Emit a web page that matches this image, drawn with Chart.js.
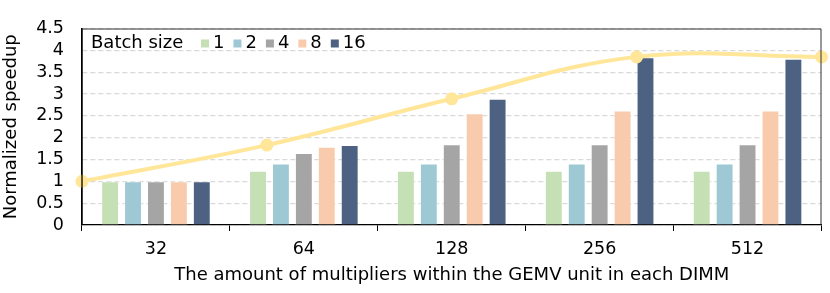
<!DOCTYPE html>
<html>
<head>
<meta charset="utf-8">
<script src="https://cdn.jsdelivr.net/npm/chart.js@4"></script>
<style>
  html, body { margin: 0; padding: 0; background: #fff; }
  #wrap { width: 830px; height: 293px; }
</style>
</head>
<body>
<div id="wrap"><canvas id="c" width="830" height="293"></canvas></div>
<script>
const categories = ['32', '64', '128', '256', '512'];
const batchSizes = ['1', '2', '4', '8', '16'];
const batch1 = [1.00, 1.24, 1.24, 1.24, 1.24];
const batch2 = [1.00, 1.41, 1.41, 1.41, 1.41];
const batch4 = [1.00, 1.65, 1.85, 1.85, 1.85];
const batch8 = [1.00, 1.79, 2.56, 2.62, 2.62];
const batch16 = [1.00, 1.83, 2.89, 3.84, 3.81];
const trendLine = [1.00, 1.83, 2.89, 3.85, 3.85];
const yTicks = [0, 0.5, 1, 1.5, 2, 2.5, 3, 3.5, 4, 4.5];
const legendTitle = 'Batch size';
const xTitle = 'The amount of multipliers within the GEMV unit in each DIMM';
const yTitle = 'Normalized speedup';

const barColors = ['#c5e0b4', '#9fc8d5', '#a5a5a5', '#f8cbad', '#4d6282'];
const lineColor = '#ffe699';
const FONT = 'DejaVu Sans';

const barSeries = [batch1, batch2, batch4, batch8, batch16];
const xMin = -0.5, xMax = categories.length - 0.5;

const datasets = barSeries.map((vals, i) => ({
  type: 'bar',
  label: batchSizes[i],
  data: vals.map((v, j) => ({ x: j, y: v })),
  backgroundColor: barColors[i],
  borderColor: 'rgba(255,255,255,0.45)',
  borderWidth: 1,
  categoryPercentage: 0.775,
  barPercentage: 0.78,
  order: 2,
  xAxisID: 'x',
  yAxisID: 'y'
}));

// the trend line spans the whole axis: its points are spread evenly from the left edge to the right edge
datasets.push({
  type: 'line',
  label: 'trend',
  data: trendLine.map((v, j) => ({ x: xMin + j * (xMax - xMin) / (trendLine.length - 1), y: v })),
  borderColor: lineColor,
  backgroundColor: lineColor,
  pointBackgroundColor: lineColor,
  pointBorderColor: lineColor,
  borderWidth: 4,
  pointRadius: 4.5,
  tension: 0.4,
  clip: false,
  order: 0,
  xAxisID: 'x',
  yAxisID: 'y'
});

const framePlugin = {
  id: 'frame',
  afterDatasetsDraw(chart) {
    const { ctx, chartArea: a } = chart;
    ctx.save();
    ctx.setLineDash([]);
    ctx.strokeStyle = '#333';
    ctx.lineWidth = 1;
    ctx.beginPath();
    ctx.moveTo(a.left, a.top + 0.5);
    ctx.lineTo(a.right - 0.5, a.top + 0.5);
    ctx.lineTo(a.right - 0.5, a.bottom);
    ctx.stroke();
    // solid left axis line (the grid dash must not apply to it)
    ctx.strokeStyle = '#000';
    ctx.lineWidth = 1.3;
    ctx.beginPath();
    ctx.moveTo(a.left, a.top);
    ctx.lineTo(a.left, a.bottom);
    ctx.stroke();
    ctx.restore();
  },
  afterDraw(chart) {
    const { ctx, chartArea: a } = chart;
    ctx.save();
    ctx.font = '18px "' + FONT + '"';
    ctx.textBaseline = 'middle';
    ctx.fillStyle = '#000';
    const cy = a.top + 15;
    let x = a.left + 9;
    ctx.fillText(legendTitle, x, cy);
    x = 201;
    batchSizes.forEach((lab, i) => {
      ctx.fillStyle = barColors[i];
      ctx.fillRect(x, cy - 4, 8, 8);
      ctx.fillStyle = '#000';
      ctx.fillText(lab, x + 12, cy);
      x += 8 + 12 + ctx.measureText(lab).width + 1;
    });
    ctx.restore();
  }
};

new Chart(document.getElementById('c'), {
  type: 'bar',
  data: { labels: categories, datasets },
  plugins: [framePlugin],
  options: {
    responsive: false,
    maintainAspectRatio: false,
    devicePixelRatio: 1,
    animation: false,
    layout: { padding: { top: 11, right: 6, left: 0, bottom: 0 } },
    plugins: { legend: { display: false }, tooltip: { enabled: false } },
    scales: {
      x: {
        type: 'linear',
        min: xMin,
        max: xMax,
        display: false,
        offset: false,
        afterBuildTicks(s) { s.ticks = categories.map((c, i) => ({ value: i })); }
      },
      xc: {
        type: 'category',
        axis: 'x',
        position: 'bottom',
        labels: categories,
        offset: true,
        afterFit(s) { s.height = 68; },
        grid: { display: true, drawOnChartArea: false, drawTicks: true, tickLength: 6, tickColor: '#000', offset: true },
        border: { display: true, color: '#000', width: 1.3 },
        ticks: { color: '#000', font: { family: FONT, size: 17.5 }, padding: 8, maxRotation: 0 },
        title: { display: true, text: xTitle, color: '#000', font: { family: FONT, size: 18 }, padding: { top: 0, bottom: 7 } }
      },
      y: {
        type: 'linear',
        min: 0,
        max: 4.5,
        afterFit(s) { s.width = 82; },
        afterBuildTicks(s) { s.ticks = yTicks.map(v => ({ value: v })); },
        grid: { color: '#d9d9d9', lineWidth: 1.2, drawTicks: false },
        border: { display: true, color: '#000', width: 1.3, dash: [5, 3] },
        ticks: { color: '#000', font: { family: FONT, size: 17.5 }, padding: 18, autoSkip: false, callback: v => String(v) },
        title: { display: true, text: yTitle, color: '#000', font: { family: FONT, size: 18 }, padding: { top: 1, bottom: 0 } }
      }
    }
  }
});
</script>
</body>
</html>
